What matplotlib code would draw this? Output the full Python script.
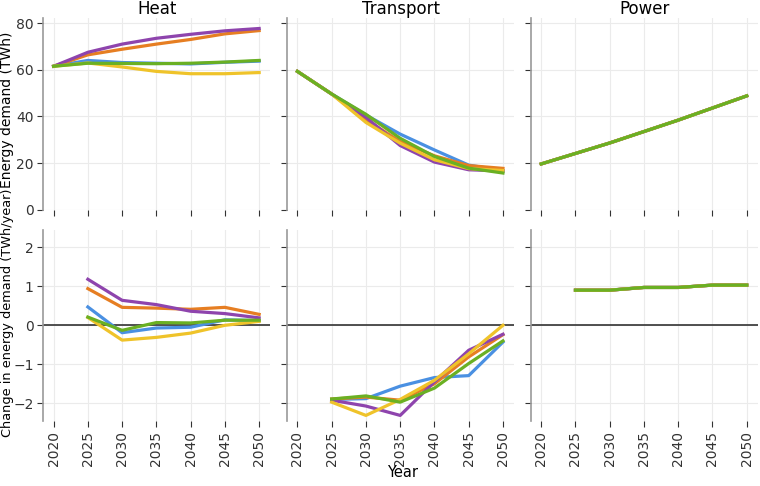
import numpy as np
import matplotlib
matplotlib.use("Agg")
import matplotlib.pyplot as plt

years = [2020, 2025, 2030, 2035, 2040, 2045, 2050]
change_years = [2025, 2030, 2035, 2040, 2045, 2050]
sectors = ["Heat", "Transport", "Power"]
series = ["blue", "orange", "purple", "yellow", "green"]
colors = ["#4a90e2", "#e67e22", "#8e44ad", "#efc32a", "#6ab023"]

# energy demand (TWh)
heat = {
    "blue":   [61.5, 64.0, 63.1, 62.8, 62.5, 63.2, 63.7],
    "orange": [61.5, 66.4, 68.8, 71.0, 73.0, 75.4, 76.8],
    "purple": [61.5, 67.5, 71.0, 73.5, 75.2, 76.7, 77.7],
    "yellow": [61.5, 62.9, 61.2, 59.3, 58.3, 58.3, 58.8],
    "green":  [61.5, 62.8, 62.7, 62.6, 62.8, 63.3, 64.0],
}
transport = {
    "blue":   [59.3, 49.6, 40.6, 32.4, 25.6, 19.1, 16.8],
    "orange": [59.3, 49.6, 38.6, 29.2, 23.1, 18.9, 17.7],
    "purple": [59.3, 49.6, 39.6, 27.5, 20.4, 17.1, 16.6],
    "yellow": [59.3, 49.6, 37.4, 28.5, 21.4, 17.6, 16.8],
    "green":  [59.3, 49.6, 40.9, 30.6, 22.8, 17.8, 15.7],
}
power = [19.6, 24.1, 28.6, 33.5, 38.4, 43.6, 48.8]

# change in energy demand (TWh/year)
heat_chg = {
    "blue":   [0.47, -0.19, -0.07, -0.05, 0.14, 0.12],
    "orange": [0.94, 0.46, 0.44, 0.41, 0.46, 0.28],
    "purple": [1.18, 0.64, 0.53, 0.36, 0.30, 0.19],
    "yellow": [0.20, -0.38, -0.31, -0.20, 0.00, 0.10],
    "green":  [0.21, -0.13, 0.07, 0.06, 0.13, 0.13],
}
transport_chg = {
    "blue":   [-1.90, -1.88, -1.56, -1.34, -1.29, -0.43],
    "orange": [-1.89, -1.84, -1.92, -1.50, -0.81, -0.24],
    "purple": [-1.92, -2.07, -2.31, -1.45, -0.64, -0.23],
    "yellow": [-1.97, -2.31, -1.90, -1.41, -0.73, 0.00],
    "green":  [-1.89, -1.81, -1.97, -1.61, -0.98, -0.40],
}
power_chg = [0.90, 0.90, 0.97, 0.97, 1.03, 1.03]

fig, axes = plt.subplots(2, 3, figsize=(7.6, 4.86), dpi=100, sharex=True, sharey="row")
fig.subplots_adjust(left=0.057, right=0.997, top=0.962, bottom=0.134, wspace=0.075, hspace=0.105)

top_data = [heat, transport, {s: power for s in series}]
bot_data = [heat_chg, transport_chg, {s: power_chg for s in series}]

for j in range(3):
    ax = axes[0, j]
    for s, c in zip(series, colors):
        ax.plot(years, top_data[j][s], color=c, lw=2.3)
    ax.set_title(sectors[j], fontsize=12, pad=3)
    ax = axes[1, j]
    ax.axhline(0, color="#333333", lw=1.2, zorder=1)
    for s, c in zip(series, colors):
        ax.plot(change_years, bot_data[j][s], color=c, lw=2.3)

for ax in axes.flat:
    ax.grid(True, color="#ebebeb", lw=0.8)
    ax.set_axisbelow(True)
    for side in ["top", "right", "bottom"]:
        ax.spines[side].set_visible(False)
    ax.spines["left"].set_color("#999999")
    ax.spines["left"].set_linewidth(1.2)
    ax.tick_params(colors="#333333", labelsize=10, length=4, pad=3)
    ax.tick_params(axis="x", labelrotation=90)
    ax.set_xticks(years)
    ax.set_xlim(2018.5, 2051.6)

axes[0, 0].set_ylim(0, 82.0)
axes[0, 0].set_yticks([0, 20, 40, 60, 80])
axes[1, 0].set_ylim(-2.45, 2.45)
axes[1, 0].set_yticks([-2, -1, 0, 1, 2])

# axis titles placed by figure position
fig.text(0.0095, 0.774, "Energy demand (TWh)", rotation=90, ha="center", va="center", fontsize=10)
fig.text(0.0095, 0.356, "Change in energy demand (TWh/year)", rotation=90, ha="center", va="center", fontsize=9.3)
fig.text(0.53, 0.012, "Year", ha="center", va="bottom", fontsize=10.5)

plt.savefig("out.png", dpi=100)
